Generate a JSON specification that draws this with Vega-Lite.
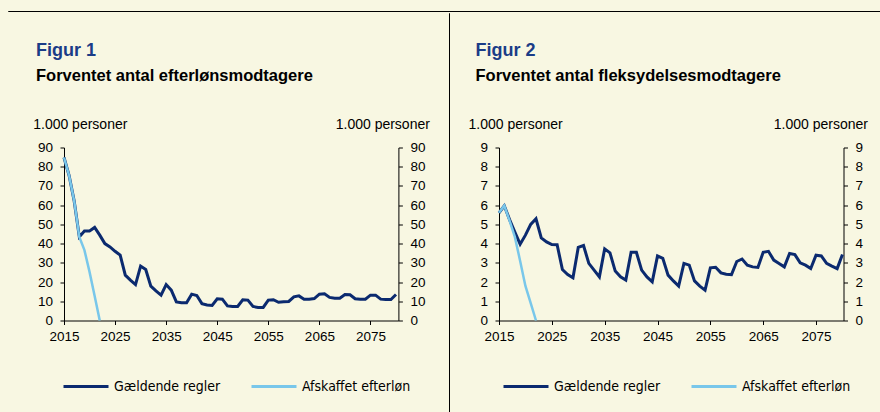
{
  "$schema": "https://vega.github.io/schema/vega-lite/v6.json",
  "background": "#F8F7E2",
  "padding": {"left": 7, "top": 10, "right": 0, "bottom": 0},
  "config": {
    "view": {"stroke": null},
    "font": "Liberation Sans",
    "axis": {
      "domainColor": "#000000", "tickColor": "#000000", "labelColor": "#000000",
      "labelFont": "Liberation Sans", "labelFontSize": 13.5, "tickSize": 4, "grid": false,
      "titleFont": "Liberation Sans", "titleFontSize": 14, "titleFontWeight": "normal", "titleColor": "#000000"
    },
    "legend": {
      "orient": "none", "direction": "horizontal", "symbolType": "stroke", "symbolSize": 2025,
      "symbolStrokeWidth": 3, "labelFont": "DejaVu Sans Condensed, Liberation Sans", "labelFontSize": 14,
      "labelColor": "#000000", "columnPadding": 24, "labelOffset": 4, "padding": 0, "title": null
    },
    "title": {"anchor": "start", "frame": "group"}
  },
  "datasets": {
    "fig1": [
      {"year": 2015, "Gældende regler": 84.8, "Afskaffet efterløn": 84.8},
      {"year": 2016, "Gældende regler": 75.4, "Afskaffet efterløn": 75.4},
      {"year": 2017, "Gældende regler": 62.0, "Afskaffet efterløn": 62.0},
      {"year": 2018, "Gældende regler": 43.5, "Afskaffet efterløn": 43.5},
      {"year": 2019, "Gældende regler": 46.6, "Afskaffet efterløn": 36.6},
      {"year": 2020, "Gældende regler": 46.6, "Afskaffet efterløn": 25.3},
      {"year": 2021, "Gældende regler": 48.4, "Afskaffet efterløn": 12.7},
      {"year": 2022, "Gældende regler": 44.4, "Afskaffet efterløn": 0},
      {"year": 2023, "Gældende regler": 40.0},
      {"year": 2024, "Gældende regler": 38.3},
      {"year": 2025, "Gældende regler": 36.0},
      {"year": 2026, "Gældende regler": 34.0},
      {"year": 2027, "Gældende regler": 23.6},
      {"year": 2028, "Gældende regler": 21.0},
      {"year": 2029, "Gældende regler": 18.7},
      {"year": 2030, "Gældende regler": 28.3},
      {"year": 2031, "Gældende regler": 26.5},
      {"year": 2032, "Gældende regler": 17.9},
      {"year": 2033, "Gældende regler": 15.4},
      {"year": 2034, "Gældende regler": 13.2},
      {"year": 2035, "Gældende regler": 18.7},
      {"year": 2036, "Gældende regler": 15.8},
      {"year": 2037, "Gældende regler": 9.7},
      {"year": 2038, "Gældende regler": 9.2},
      {"year": 2039, "Gældende regler": 9.2},
      {"year": 2040, "Gældende regler": 13.7},
      {"year": 2041, "Gældende regler": 13.0},
      {"year": 2042, "Gældende regler": 8.8},
      {"year": 2043, "Gældende regler": 8.1},
      {"year": 2044, "Gældende regler": 7.8},
      {"year": 2045, "Gældende regler": 11.3},
      {"year": 2046, "Gældende regler": 11.1},
      {"year": 2047, "Gældende regler": 7.6},
      {"year": 2048, "Gældende regler": 7.3},
      {"year": 2049, "Gældende regler": 7.3},
      {"year": 2050, "Gældende regler": 10.8},
      {"year": 2051, "Gældende regler": 10.6},
      {"year": 2052, "Gældende regler": 7.3},
      {"year": 2053, "Gældende regler": 6.8},
      {"year": 2054, "Gældende regler": 6.8},
      {"year": 2055, "Gældende regler": 10.6},
      {"year": 2056, "Gældende regler": 10.8},
      {"year": 2057, "Gældende regler": 9.5},
      {"year": 2058, "Gældende regler": 9.7},
      {"year": 2059, "Gældende regler": 9.9},
      {"year": 2060, "Gældende regler": 12.3},
      {"year": 2061, "Gældende regler": 12.8},
      {"year": 2062, "Gældende regler": 11.1},
      {"year": 2063, "Gældende regler": 11.1},
      {"year": 2064, "Gældende regler": 11.4},
      {"year": 2065, "Gældende regler": 13.7},
      {"year": 2066, "Gældende regler": 13.9},
      {"year": 2067, "Gældende regler": 12.0},
      {"year": 2068, "Gældende regler": 11.6},
      {"year": 2069, "Gældende regler": 11.6},
      {"year": 2070, "Gældende regler": 13.5},
      {"year": 2071, "Gældende regler": 13.4},
      {"year": 2072, "Gældende regler": 11.3},
      {"year": 2073, "Gældende regler": 11.1},
      {"year": 2074, "Gældende regler": 11.1},
      {"year": 2075, "Gældende regler": 13.2},
      {"year": 2076, "Gældende regler": 13.2},
      {"year": 2077, "Gældende regler": 11.1},
      {"year": 2078, "Gældende regler": 10.9},
      {"year": 2079, "Gældende regler": 10.9},
      {"year": 2080, "Gældende regler": 13.5}
    ],
    "fig2": [
      {"year": 2015, "Gældende regler": 5.6, "Afskaffet efterløn": 5.6},
      {"year": 2016, "Gældende regler": 5.97, "Afskaffet efterløn": 5.97},
      {"year": 2017, "Gældende regler": 5.25, "Afskaffet efterløn": 5.2},
      {"year": 2018, "Gældende regler": 4.6, "Afskaffet efterløn": 4.35},
      {"year": 2019, "Gældende regler": 3.97, "Afskaffet efterløn": 3.1},
      {"year": 2020, "Gældende regler": 4.44, "Afskaffet efterløn": 1.8},
      {"year": 2021, "Gældende regler": 5.0, "Afskaffet efterløn": 0.9},
      {"year": 2022, "Gældende regler": 5.29, "Afskaffet efterløn": 0},
      {"year": 2023, "Gældende regler": 4.3},
      {"year": 2024, "Gældende regler": 4.09},
      {"year": 2025, "Gældende regler": 3.95},
      {"year": 2026, "Gældende regler": 3.94},
      {"year": 2027, "Gældende regler": 2.65},
      {"year": 2028, "Gældende regler": 2.39},
      {"year": 2029, "Gældende regler": 2.22},
      {"year": 2030, "Gældende regler": 3.8},
      {"year": 2031, "Gældende regler": 3.9},
      {"year": 2032, "Gældende regler": 2.97},
      {"year": 2033, "Gældende regler": 2.62},
      {"year": 2034, "Gældende regler": 2.27},
      {"year": 2035, "Gældende regler": 3.73},
      {"year": 2036, "Gældende regler": 3.52},
      {"year": 2037, "Gældende regler": 2.57},
      {"year": 2038, "Gældende regler": 2.27},
      {"year": 2039, "Gældende regler": 2.1},
      {"year": 2040, "Gældende regler": 3.55},
      {"year": 2041, "Gældende regler": 3.55},
      {"year": 2042, "Gældende regler": 2.62},
      {"year": 2043, "Gældende regler": 2.27},
      {"year": 2044, "Gældende regler": 2.01},
      {"year": 2045, "Gældende regler": 3.36},
      {"year": 2046, "Gældende regler": 3.23},
      {"year": 2047, "Gældende regler": 2.36},
      {"year": 2048, "Gældende regler": 2.06},
      {"year": 2049, "Gældende regler": 1.79},
      {"year": 2050, "Gældende regler": 2.97},
      {"year": 2051, "Gældende regler": 2.88},
      {"year": 2052, "Gældende regler": 2.06},
      {"year": 2053, "Gældende regler": 1.79},
      {"year": 2054, "Gældende regler": 1.58},
      {"year": 2055, "Gældende regler": 2.74},
      {"year": 2056, "Gældende regler": 2.77},
      {"year": 2057, "Gældende regler": 2.48},
      {"year": 2058, "Gældende regler": 2.41},
      {"year": 2059, "Gældende regler": 2.39},
      {"year": 2060, "Gældende regler": 3.07},
      {"year": 2061, "Gældende regler": 3.2},
      {"year": 2062, "Gældende regler": 2.88},
      {"year": 2063, "Gældende regler": 2.79},
      {"year": 2064, "Gældende regler": 2.76},
      {"year": 2065, "Gældende regler": 3.55},
      {"year": 2066, "Gældende regler": 3.6},
      {"year": 2067, "Gældende regler": 3.14},
      {"year": 2068, "Gældende regler": 2.97},
      {"year": 2069, "Gældende regler": 2.79},
      {"year": 2070, "Gældende regler": 3.49},
      {"year": 2071, "Gældende regler": 3.43},
      {"year": 2072, "Gældende regler": 3.0},
      {"year": 2073, "Gældende regler": 2.88},
      {"year": 2074, "Gældende regler": 2.7},
      {"year": 2075, "Gældende regler": 3.4},
      {"year": 2076, "Gældende regler": 3.36},
      {"year": 2077, "Gældende regler": 2.97},
      {"year": 2078, "Gældende regler": 2.83},
      {"year": 2079, "Gældende regler": 2.7},
      {"year": 2080, "Gældende regler": 3.43}
    ]
  },
  "resolve": {"scale": {"color": "independent"}, "legend": {"color": "independent"}},
  "spacing": 0,
  "vconcat": [
    {
      "width": 873, "height": 0.01,
      "data": {"values": [{}]},
      "mark": "rule", "encoding": {},
      "view": {"stroke": "#000000", "strokeWidth": 1}
    },
    {
      "spacing": 18,
      "resolve": {"scale": {"color": "independent"}, "legend": {"color": "independent"}},
      "hconcat": [
        {"width": 5.7, "height": 0.01, "data": {"values": [{}]}, "mark": "rule", "encoding": {}},
        {
          "spacing": 27.5,
          "resolve": {"scale": {"color": "independent"}, "legend": {"color": "independent"}},
          "vconcat": [
            {"width": 0.01, "height": 0.01, "data": {"values": [{}]}, "mark": "rule", "encoding": {}},
            {
              "width": 334.4, "height": 173,
              "data": {"name": "fig1"},
              "transform": [
                {"fold": ["Gældende regler", "Afskaffet efterløn"], "as": ["series", "value"]},
                {"filter": "isValid(datum.value)"}
              ],
              "title": {
                "text": "Figur 1", "subtitle": "Forventet antal efterlønsmodtagere",
                "dx": -28, "offset": 33.5, "color": "#1B3C87", "fontSize": 18, "fontWeight": "bold",
                "font": "Liberation Sans", "subtitleFont": "Liberation Sans",
                "subtitleColor": "#000000", "subtitleFontSize": 16.5, "subtitleFontWeight": "bold", "subtitlePadding": 7.5
              },
              "layer": [
                {
                  "encoding": {
                    "x": {"field": "year", "type": "quantitative",
                      "scale": {"domain": [2015, 2080.47], "nice": false, "zero": false},
                      "axis": {"title": null, "values": [2015, 2020, 2025, 2030, 2035, 2040, 2045, 2050, 2055, 2060, 2065, 2070, 2075, 2080],
                        "labelExpr": "(datum.value - 2015) % 10 == 0 ? datum.value : ''", "labelPadding": 4.5, "labelFlush": false, "labelOverlap": false}},
                    "y": {"field": "value", "type": "quantitative",
                      "scale": {"domain": [0, 90], "nice": false},
                      "axis": {"values": [0, 10, 20, 30, 40, 50, 60, 70, 80, 90], "labelPadding": 7.5,
                        "title": "1.000 personer", "titleAngle": 0, "titleAlign": "left", "titleBaseline": "alphabetic",
                        "titleX": -31.3, "titleY": -18.8}},
                    "color": {"field": "series", "type": "nominal",
                      "scale": {"domain": ["Gældende regler", "Afskaffet efterløn"], "range": ["#0B2A6F", "#79C7EA"]},
                      "legend": {"legendX": -2, "legendY": 215}}
                  },
                  "layer": [
                    {"transform": [{"filter": "datum.series == 'Gældende regler'"}], "mark": {"type": "line", "strokeWidth": 3}},
                    {"transform": [{"filter": "datum.series == 'Afskaffet efterløn'"}], "mark": {"type": "line", "strokeWidth": 2.5}}
                  ]
                },
                {
                  "mark": {"type": "line", "opacity": 0},
                  "encoding": {
                    "x": {"field": "year", "type": "quantitative"},
                    "y": {"field": "value", "type": "quantitative",
                      "scale": {"domain": [0, 90], "nice": false},
                      "axis": {"orient": "right", "values": [0, 10, 20, 30, 40, 50, 60, 70, 80, 90], "labelPadding": 7.5,
                        "title": "1.000 personer", "titleAngle": 0, "titleAlign": "right", "titleBaseline": "alphabetic",
                        "titleX": 31, "titleY": -18.8}},
                    "detail": {"field": "series"}
                  }
                }
              ],
              "resolve": {"scale": {"y": "independent"}}
            }
          ]
        },
        {
          "width": 0.01, "height": 402,
          "data": {"values": [{}]},
          "mark": "rule", "encoding": {},
          "view": {"stroke": "#000000", "strokeWidth": 1}
        },
        {
          "spacing": 27.5,
          "resolve": {"scale": {"color": "independent"}, "legend": {"color": "independent"}},
          "vconcat": [
            {"width": 0.01, "height": 0.01, "data": {"values": [{}]}, "mark": "rule", "encoding": {}},
            {
              "width": 344.5, "height": 173,
              "data": {"name": "fig2"},
              "transform": [
                {"fold": ["Gældende regler", "Afskaffet efterløn"], "as": ["series", "value"]},
                {"filter": "isValid(datum.value)"}
              ],
              "title": {
                "text": "Figur 2", "subtitle": "Forventet antal fleksydelsesmodtagere",
                "dx": -23.5, "offset": 33.5, "color": "#1B3C87", "fontSize": 18, "fontWeight": "bold",
                "font": "Liberation Sans", "subtitleFont": "Liberation Sans",
                "subtitleColor": "#000000", "subtitleFontSize": 16.5, "subtitleFontWeight": "bold", "subtitlePadding": 7.5
              },
              "layer": [
                {
                  "encoding": {
                    "x": {"field": "year", "type": "quantitative",
                      "scale": {"domain": [2015, 2080.2], "nice": false, "zero": false},
                      "axis": {"title": null, "values": [2015, 2020, 2025, 2030, 2035, 2040, 2045, 2050, 2055, 2060, 2065, 2070, 2075, 2080],
                        "labelExpr": "(datum.value - 2015) % 10 == 0 ? datum.value : ''", "labelPadding": 4.5, "labelFlush": false, "labelOverlap": false}},
                    "y": {"field": "value", "type": "quantitative",
                      "scale": {"domain": [0, 9], "nice": false},
                      "axis": {"values": [0, 1, 2, 3, 4, 5, 6, 7, 8, 9], "labelPadding": 7.5,
                        "title": "1.000 personer", "titleAngle": 0, "titleAlign": "left", "titleBaseline": "alphabetic",
                        "titleX": -31, "titleY": -18.8}},
                    "color": {"field": "series", "type": "nominal",
                      "scale": {"domain": ["Gældende regler", "Afskaffet efterløn"], "range": ["#0B2A6F", "#79C7EA"]},
                      "legend": {"legendX": 3, "legendY": 215}}
                  },
                  "layer": [
                    {"transform": [{"filter": "datum.series == 'Gældende regler'"}], "mark": {"type": "line", "strokeWidth": 3}},
                    {"transform": [{"filter": "datum.series == 'Afskaffet efterløn'"}], "mark": {"type": "line", "strokeWidth": 2.5}}
                  ]
                },
                {
                  "mark": {"type": "line", "opacity": 0},
                  "encoding": {
                    "x": {"field": "year", "type": "quantitative"},
                    "y": {"field": "value", "type": "quantitative",
                      "scale": {"domain": [0, 9], "nice": false},
                      "axis": {"orient": "right", "values": [0, 1, 2, 3, 4, 5, 6, 7, 8, 9], "labelPadding": 7.5,
                        "title": "1.000 personer", "titleAngle": 0, "titleAlign": "right", "titleBaseline": "alphabetic",
                        "titleX": 24, "titleY": -18.8}},
                    "detail": {"field": "series"}
                  }
                }
              ],
              "resolve": {"scale": {"y": "independent"}}
            }
          ]
        }
      ]
    }
  ]
}
